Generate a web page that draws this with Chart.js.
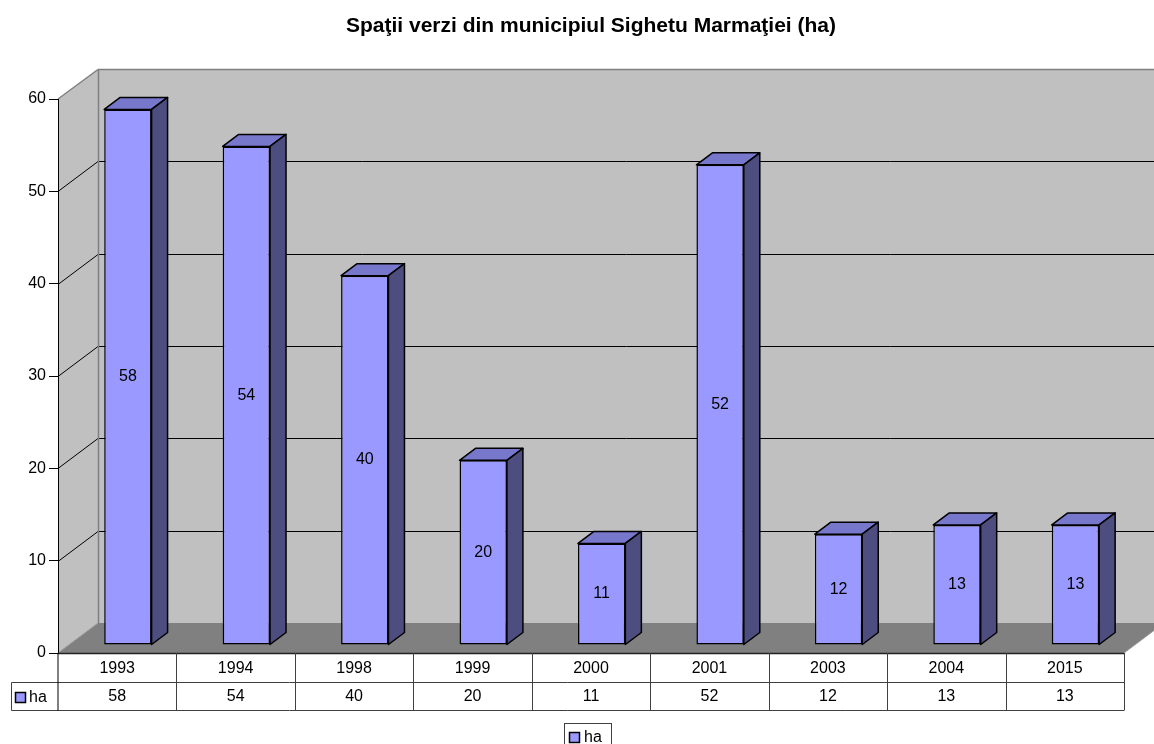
<!DOCTYPE html>
<html>
<head>
<meta charset="utf-8">
<style>
  html, body { margin: 0; padding: 0; background: #ffffff; }
  #wrap { width: 1154px; height: 744px; position: relative; }
  canvas { display: block; }
</style>
<script src="https://cdn.jsdelivr.net/npm/chart.js@4/dist/chart.umd.min.js"></script>
</head>
<body>
<div id="wrap"><canvas id="c" width="1154" height="744"></canvas></div>
<script>
// Data
const years = ['1993', '1994', '1998', '1999', '2000', '2001', '2003', '2004', '2015'];
const haValues = [58, 54, 40, 20, 11, 52, 12, 13, 13];
const yTicks = [0, 10, 20, 30, 40, 50, 60];
const seriesName = 'ha';
const chartTitle = 'Spaţii verzi din municipiul Sighetu Marmaţiei (ha)';

// 3D look
const WALL_DX = 40, WALL_DY = 30;     // depth of the box (walls / floor)
const BAR_FX = 10.67, BAR_FY = 8;     // offset of the bars' front face
const BAR_DX = 16, BAR_DY = 12;       // depth of each bar
const FAMILY = '"Liberation Sans", Arial, sans-serif';
const FONT = '16px ' + FAMILY;
const FONT_TITLE = 'bold 21px ' + FAMILY;
const FRONT = '#9999FF', TOP = '#7777CC', SIDE = '#4D4D80';

function poly(ctx, pts, fill, stroke, lw) {
  ctx.beginPath();
  ctx.moveTo(pts[0][0], pts[0][1]);
  for (let i = 1; i < pts.length; i++) ctx.lineTo(pts[i][0], pts[i][1]);
  ctx.closePath();
  if (fill) { ctx.fillStyle = fill; ctx.fill(); }
  if (stroke) { ctx.strokeStyle = stroke; ctx.lineWidth = lw || 1; ctx.stroke(); }
}
function line(ctx, x1, y1, x2, y2, color, lw) {
  ctx.beginPath();
  ctx.moveTo(x1, y1); ctx.lineTo(x2, y2);
  ctx.strokeStyle = color; ctx.lineWidth = lw || 1; ctx.stroke();
}

const box3d = {
  id: 'box3d',
  beforeDraw(chart) {
    const { ctx, chartArea: a, scales: { y } } = chart;
    const L = a.left, R = a.right, T = a.top, B = a.bottom;
    ctx.save();
    ctx.fillStyle = '#ffffff';
    ctx.fillRect(0, 0, chart.width, chart.height);

    // title, centred over the plot
    ctx.fillStyle = '#000';
    ctx.font = FONT_TITLE;
    ctx.textAlign = 'center';
    ctx.textBaseline = 'alphabetic';
    ctx.fillText(chartTitle, (L + R) / 2, 32);

    // back wall, left wall, floor
    ctx.fillStyle = '#C0C0C0';
    ctx.fillRect(L + WALL_DX, T - WALL_DY, R - L, B - T);
    poly(ctx, [[L, T], [L + WALL_DX, T - WALL_DY], [L + WALL_DX, B - WALL_DY], [L, B]], '#C0C0C0');
    poly(ctx, [[L, B], [R, B], [R + WALL_DX, B - WALL_DY], [L + WALL_DX, B - WALL_DY]], '#808080');

    // gridlines on the walls
    yTicks.forEach(v => {
      if (v === yTicks[0] || v === yTicks[yTicks.length - 1]) return;
      const py = Math.round(y.getPixelForValue(v)) + 0.5;
      line(ctx, L + WALL_DX, py - WALL_DY, R + WALL_DX, py - WALL_DY, '#000', 1);
      line(ctx, L, py, L + WALL_DX, py - WALL_DY, '#000', 1);
    });

    // box edges
    const top = Math.round(T - WALL_DY) + 0.5;
    line(ctx, L, T, L + WALL_DX, top, '#808080', 1.5);
    line(ctx, L + WALL_DX, top, R + WALL_DX, top, '#808080', 1.5);
    line(ctx, L + WALL_DX + 0.5, top, L + WALL_DX + 0.5, B - WALL_DY, '#808080', 1.5);
    line(ctx, L, B, L + WALL_DX, B - WALL_DY, '#999999', 1);
    line(ctx, R, B, R + WALL_DX, B - WALL_DY, '#999999', 1);
    ctx.restore();
  },
  beforeDatasetsDraw(chart) {
    chart.ctx.save();
    chart.ctx.translate(BAR_FX, -BAR_FY);
  },
  afterDatasetsDraw(chart) {
    const ctx = chart.ctx;
    const meta = chart.getDatasetMeta(0);
    meta.data.forEach((el, i) => {
      const x0 = el.x - el.width / 2, x1 = el.x + el.width / 2;
      const yt = el.y, yb = el.base;
      ctx.lineJoin = 'round';
      poly(ctx, [[x0, yt], [x1, yt], [x1 + BAR_DX, yt - BAR_DY], [x0 + BAR_DX, yt - BAR_DY]], TOP, '#000', 1.5);
      poly(ctx, [[x1, yt], [x1 + BAR_DX, yt - BAR_DY], [x1 + BAR_DX, yb - BAR_DY], [x1, yb]], SIDE, '#000', 1.5);
      ctx.fillStyle = '#000';
      ctx.font = FONT;
      ctx.textAlign = 'center';
      ctx.textBaseline = 'middle';
      ctx.fillText(String(haValues[i]), el.x, (yt + yb) / 2);
    });
    ctx.restore();
  },
  afterDraw(chart) {
    const { ctx, chartArea: a, scales: { x } } = chart;
    const L = a.left, R = a.right, B = a.bottom;
    const r1 = B + 29, r2 = B + 57;
    const lc = '#404040';
    ctx.save();

    // data table
    const edges = [L];
    for (let i = 1; i < years.length; i++) {
      edges.push(Math.round((x.getPixelForValue(i - 1) + x.getPixelForValue(i)) / 2) + 0.5);
    }
    edges.push(Math.round(R) + 0.5);
    line(ctx, L, Math.round(B) + 0.5, R, Math.round(B) + 0.5, '#222', 1.5);
    line(ctx, 11.5, r1 + 0.5, R, r1 + 0.5, lc, 1);
    line(ctx, 11.5, r2 + 0.5, R, r2 + 0.5, lc, 1);
    line(ctx, 11.5, r1 + 0.5, 11.5, r2 + 0.5, lc, 1);
    line(ctx, L, B, L, r2 + 0.5, '#000', 1);
    edges.slice(1).forEach(ex => line(ctx, ex, B, ex, r2 + 0.5, lc, 1));

    ctx.fillStyle = '#000';
    ctx.font = FONT;
    ctx.textAlign = 'center';
    ctx.textBaseline = 'middle';
    years.forEach((yr, i) => {
      const cx = x.getPixelForValue(i);
      ctx.fillText(yr, cx, (B + r1) / 2 + 1);
      ctx.fillText(String(haValues[i]), cx, (r1 + r2) / 2 + 1);
    });

    // series key inside the table
    ctx.fillStyle = FRONT;
    ctx.fillRect(15.5, 692.5, 10, 10);
    ctx.strokeStyle = '#000'; ctx.lineWidth = 1.5;
    ctx.strokeRect(15.5, 692.5, 10, 10);
    ctx.fillStyle = '#000';
    ctx.textAlign = 'left';
    ctx.fillText(seriesName, 29, 698);

    // legend below the table
    ctx.strokeStyle = lc; ctx.lineWidth = 1;
    ctx.strokeRect(564.5, 723.5, 47, 30);
    ctx.fillStyle = FRONT;
    ctx.fillRect(569.5, 732.5, 10, 10);
    ctx.strokeStyle = '#000'; ctx.lineWidth = 1.5;
    ctx.strokeRect(569.5, 732.5, 10, 10);
    ctx.fillStyle = '#000';
    ctx.fillText(seriesName, 584, 738);
    ctx.restore();
  }
};

new Chart(document.getElementById('c'), {
  type: 'bar',
  data: {
    labels: years,
    datasets: [{
      label: seriesName,
      data: haValues,
      backgroundColor: FRONT,
      borderColor: '#000',
      borderWidth: 1.5,
      borderSkipped: false,
      categoryPercentage: 1.0,
      barPercentage: 0.4,
      clip: false
    }]
  },
  options: {
    responsive: false,
    devicePixelRatio: 1,
    animation: false,
    layout: { padding: { left: 0, top: 99, right: 30, bottom: 91 } },
    plugins: { legend: { display: false }, title: { display: false }, tooltip: { enabled: false } },
    scales: {
      x: { display: false, offset: true },
      y: {
        min: 0, max: 60,
        afterFit(scale) { scale.width = 58; },
        afterBuildTicks(scale) { scale.ticks = yTicks.map(v => ({ value: v })); },
        ticks: { color: '#000', font: { family: FAMILY, size: 16 }, padding: 3 },
        grid: { drawOnChartArea: false, drawTicks: true, tickLength: 9, color: '#000', lineWidth: 1 },
        border: { display: true, color: '#000', width: 1 }
      }
    }
  },
  plugins: [box3d]
});
</script>
</body>
</html>
